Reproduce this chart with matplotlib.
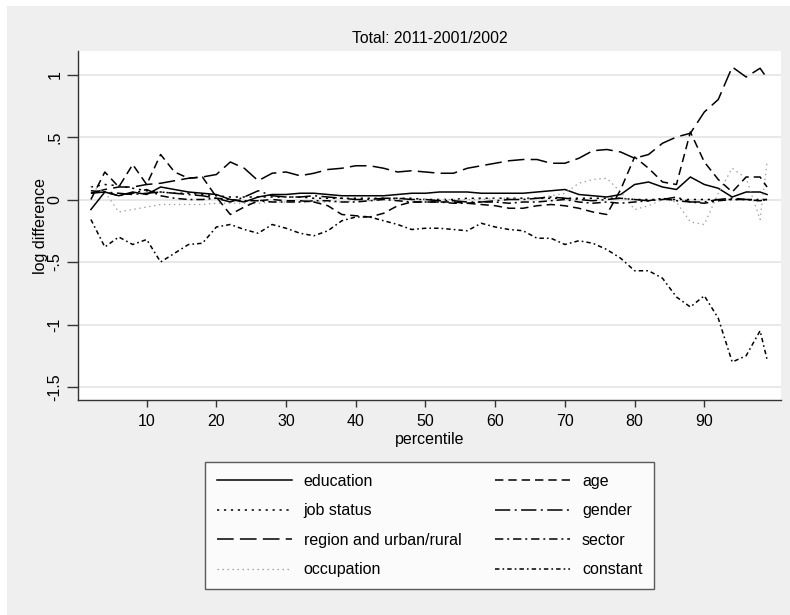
import matplotlib
matplotlib.use("Agg")
import matplotlib.pyplot as plt
from matplotlib.patches import Rectangle

plt.rcParams['font.family'] = ['Liberation Sans', 'DejaVu Sans']
plt.rcParams['lines.scale_dashes'] = False

# percentiles
pct = [2, 4, 6, 8, 10, 12, 14, 16, 18, 20, 22, 24, 26, 28, 30, 32, 34, 36, 38, 40,
       42, 44, 46, 48, 50, 52, 54, 56, 58, 60, 62, 64, 66, 68, 70, 72, 74, 76, 78, 80,
       82, 84, 86, 88, 90, 92, 94, 96, 98, 99]

education = [-0.08, 0.06, 0.03, 0.06, 0.04, 0.10, 0.08, 0.06, 0.05, 0.04,
             0.00, -0.02, 0.02, 0.04, 0.04, 0.05, 0.05, 0.04, 0.03, 0.03,
             0.03, 0.03, 0.04, 0.05, 0.05, 0.06, 0.06, 0.06, 0.05, 0.05,
             0.05, 0.05, 0.06, 0.07, 0.08, 0.04, 0.03, 0.02, 0.04, 0.12,
             0.14, 0.10, 0.08, 0.18, 0.12, 0.09, 0.02, 0.06, 0.06, 0.04]

age = [0.00, 0.22, 0.10, 0.28, 0.12, 0.36, 0.22, 0.17, 0.18, 0.02,
       -0.12, -0.06, -0.01, 0.00, -0.01, -0.01, -0.02, -0.05, -0.12, -0.13,
       -0.14, -0.11, -0.05, -0.02, -0.02, -0.02, -0.02, -0.03, -0.04, -0.05,
       -0.07, -0.07, -0.05, -0.04, -0.05, -0.07, -0.10, -0.12, 0.08, 0.34,
       0.25, 0.14, 0.12, 0.54, 0.30, 0.16, 0.06, 0.18, 0.18, 0.10]

job_status = [0.10, 0.12, 0.11, 0.09, 0.07, 0.06, 0.05, 0.05, 0.04, 0.03,
              0.02, 0.02, 0.02, 0.02, 0.02, 0.02, 0.01, 0.01, 0.01, 0.01,
              0.01, 0.01, 0.01, 0.01, 0.00, 0.00, 0.00, 0.01, 0.01, 0.01,
              0.01, 0.01, 0.01, 0.01, 0.01, 0.01, 0.01, 0.01, 0.01, 0.00,
              0.00, 0.00, 0.00, 0.00, 0.00, 0.00, 0.00, 0.00, -0.01, 0.00]

gender = [0.05, 0.06, 0.05, 0.04, 0.05, 0.06, 0.05, 0.04, 0.03, 0.01,
          -0.02, 0.02, 0.07, 0.03, 0.02, 0.02, 0.03, 0.02, 0.01, 0.00,
          0.00, 0.01, 0.01, 0.00, 0.00, -0.01, -0.01, -0.02, -0.02, -0.01,
          0.00, 0.00, 0.01, 0.02, 0.01, 0.00, -0.01, 0.00, 0.01, 0.00,
          -0.01, 0.00, 0.02, -0.02, -0.02, 0.00, 0.01, 0.00, 0.00, 0.00]

region = [0.05, 0.08, 0.10, 0.10, 0.12, 0.13, 0.15, 0.17, 0.18, 0.20,
          0.30, 0.25, 0.15, 0.21, 0.22, 0.19, 0.21, 0.24, 0.25, 0.27,
          0.27, 0.25, 0.22, 0.23, 0.22, 0.21, 0.21, 0.25, 0.27, 0.29,
          0.31, 0.32, 0.32, 0.29, 0.29, 0.33, 0.39, 0.40, 0.38, 0.33,
          0.36, 0.45, 0.50, 0.53, 0.70, 0.80, 1.06, 0.98, 1.05, 0.97]

sector = [0.07, 0.06, 0.03, 0.05, 0.08, 0.03, 0.01, 0.00, 0.00, 0.01,
          0.00, -0.01, -0.01, -0.02, -0.02, -0.02, -0.01, -0.01, -0.02, -0.02,
          -0.01, 0.00, -0.01, -0.02, -0.02, -0.02, -0.03, -0.03, -0.02, -0.02,
          -0.03, -0.02, -0.02, -0.01, 0.00, -0.02, -0.03, -0.02, -0.03, -0.02,
          -0.01, 0.01, -0.01, -0.02, -0.03, -0.01, 0.00, 0.00, -0.01, 0.00]

occupation = [0.10, 0.06, -0.10, -0.08, -0.06, -0.04, -0.04, -0.04, -0.04, -0.03,
              -0.03, -0.03, -0.03, -0.02, -0.02, -0.02, -0.02, -0.02, -0.02, -0.01,
              -0.01, 0.00, 0.00, 0.00, 0.00, 0.00, 0.00, 0.00, 0.00, 0.01,
              0.01, 0.00, 0.01, 0.03, 0.05, 0.13, 0.16, 0.17, 0.06, -0.08,
              -0.05, 0.00, -0.02, -0.18, -0.20, 0.05, 0.25, 0.17, -0.16, 0.30]

constant = [-0.16, -0.38, -0.30, -0.36, -0.32, -0.50, -0.43, -0.36, -0.35, -0.22,
            -0.20, -0.24, -0.27, -0.20, -0.23, -0.27, -0.29, -0.25, -0.17, -0.14,
            -0.14, -0.17, -0.20, -0.24, -0.23, -0.23, -0.24, -0.25, -0.19, -0.22,
            -0.24, -0.25, -0.31, -0.31, -0.36, -0.33, -0.35, -0.40, -0.47, -0.57,
            -0.57, -0.63, -0.78, -0.86, -0.77, -0.95, -1.30, -1.25, -1.05, -1.28]

yticks = [1, 0.5, 0, -0.5, -1, -1.5]
ytick_labels = ['1', '.5', '0', '-.5', '-1', '-1.5']
xticks = [10, 20, 30, 40, 50, 60, 70, 80, 90]

fig = plt.figure(figsize=(7.9, 6.15), dpi=100, facecolor='white')
# grey graph region (Stata style), thin white edge left and top
fig.patches.append(Rectangle((7 / 790, 0), 1, 1 - 6 / 615, transform=fig.transFigure,
                             facecolor='#efefef', edgecolor='none', zorder=-10))

ax = fig.add_axes([78 / 790, 1 - 400 / 615, 703 / 790, 349 / 615])
ax.set_facecolor('white')

lw = 1.1
series = [
    ('education', education, dict(color='black', linestyle='-')),
    ('job status', job_status, dict(color='black', linestyle=(0, (1.6, 3.4)))),
    ('region and urban/rural', region, dict(color='black', linestyle=(0, (12, 4.5)))),
    ('occupation', occupation, dict(color='#9a9a9a', linestyle=(0, (1.0, 2.6)), linewidth=0.9)),
    ('age', age, dict(color='black', linestyle=(0, (6, 3.6)))),
    ('gender', gender, dict(color='black', linestyle=(0, (11, 3.2, 1.4, 3.2)))),
    ('sector', sector, dict(color='black', linestyle=(0, (6, 2.8, 1.4, 2.8)))),
    ('constant', constant, dict(color='black', linestyle=(0, (3.2, 2.2, 1.2, 2.2)))),
]

handles = []
for name, vals, style in series:
    kw = dict(linewidth=lw)
    kw.update(style)
    h, = ax.plot(pct, vals, label=name, **kw)
    handles.append(h)

ax.set_xlim(0.15, 101)
ax.set_ylim(-1.604, 1.188)

ax.set_yticks(yticks)
ax.set_yticklabels(ytick_labels, rotation=90, va='center')
ax.set_xticks(xticks)

ax.grid(axis='y', color='#e6e6e6', linewidth=1.3)
ax.set_axisbelow(True)
for s in ['top', 'right']:
    ax.spines[s].set_visible(False)
for s in ['left', 'bottom']:
    ax.spines[s].set_color('#333333')
    ax.spines[s].set_linewidth(1.0)

ax.tick_params(axis='y', length=8, width=1.0, color='#333333', labelsize=11.5, pad=3)
ax.tick_params(axis='x', length=5, width=1.0, color='#333333', labelsize=11.5, pad=5)

ax.set_title('Total: 2011-2001/2002', fontsize=11.3, pad=6)
ax.set_xlabel('percentile', fontsize=11.5, labelpad=2)
ax.set_ylabel('log difference', fontsize=11.5, labelpad=0)

leg = fig.legend(handles=handles, ncol=2, loc='upper center',
                 bbox_to_anchor=(429.5 / 790, 1 - 462 / 615), borderaxespad=0,
                 fontsize=11.5, frameon=True, fancybox=False,
                 handlelength=4.7, handletextpad=0.75, columnspacing=2.1,
                 labelspacing=0.9, borderpad=0.75)
leg.get_frame().set_edgecolor('#333333')
leg.get_frame().set_linewidth(1.0)
leg.get_frame().set_facecolor('white')

fig.savefig('out.png', dpi=100, facecolor=fig.get_facecolor())
